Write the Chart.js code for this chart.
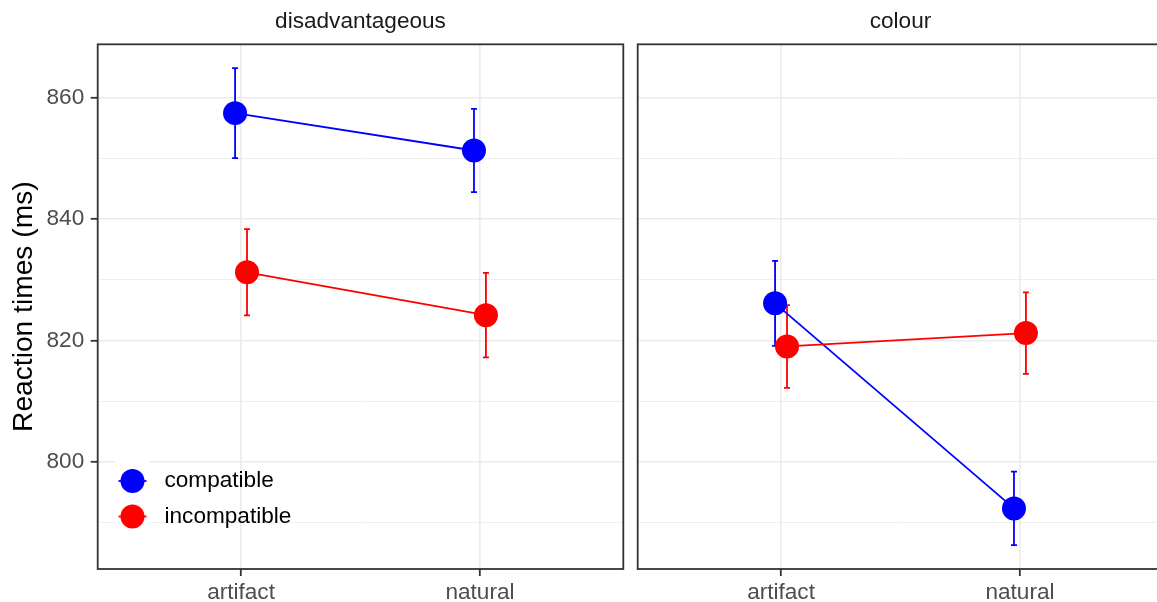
<!DOCTYPE html>
<html>
<head>
<meta charset="utf-8">
<script src="https://cdn.jsdelivr.net/npm/chart.js@4.4.1/dist/chart.umd.min.js"></script>
<style>
  html, body { margin: 0; padding: 0; background: #ffffff; width: 1157px; height: 602px; overflow: hidden; }
  canvas { position: absolute; top: 0; }
  #panelLeft { left: 0; }
  #panelRight { left: 630px; }
</style>
</head>
<body>
<canvas id="panelLeft" width="630" height="602"></canvas>
<canvas id="panelRight" width="540" height="602"></canvas>
<script>
// Facets, categories and groups
const panels = ['disadvantageous', 'colour'];
const categories = ['artifact', 'natural'];
const groups = ['compatible', 'incompatible'];
const groupColors = ['#0000FF', '#FF0000'];

// Mean reaction times (ms), one value per category
const disadvCompatible = [857.4, 851.25];
const disadvIncompatible = [831.2, 824.15];
const colourCompatible = [826.1, 792.35];
const colourIncompatible = [819.0, 821.2];

// Error bar half-widths (ms)
const disadvCompatibleErr = [7.4, 6.85];
const disadvIncompatibleErr = [7.1, 6.95];
const colourCompatibleErr = [7.0, 6.05];
const colourIncompatibleErr = [6.8, 6.7];

// Labelled y ticks
const yTicks = [800, 820, 840, 860];

const FONT = '"Liberation Sans", Arial, Helvetica, sans-serif';
const TEXT_SIZE = 22.6;
const TITLE_SIZE = 28.2;
const DODGE = 0.025;

// y limits: data range incl. error bars, expanded by 5% each side
const allMeans = [disadvCompatible, disadvIncompatible, colourCompatible, colourIncompatible];
const allErrs = [disadvCompatibleErr, disadvIncompatibleErr, colourCompatibleErr, colourIncompatibleErr];
let lo = Infinity, hi = -Infinity;
allMeans.forEach((arr, k) => arr.forEach((v, i) => {
  lo = Math.min(lo, v - allErrs[k][i]);
  hi = Math.max(hi, v + allErrs[k][i]);
}));
const span = hi - lo;
const yMin = lo - 0.05 * span;
const yMax = hi + 0.05 * span;

// major + minor grid positions
const yStep = yTicks[1] - yTicks[0];
const yGrid = [];
for (let v = yTicks[0] - yStep / 2; v <= yMax; v += yStep / 2) {
  if (v >= yMin) yGrid.push(v);
}
const isMajor = v => yTicks.includes(v);

function series(label, vals, errs, gi) {
  const off = gi === 0 ? -DODGE : DODGE;
  return {
    label: label,
    data: vals.map((v, i) => ({ x: i + 1 + off, y: v })),
    err: errs,
    borderColor: groupColors[gi],
    backgroundColor: groupColors[gi],
    pointBackgroundColor: groupColors[gi],
    pointBorderWidth: 0,
    pointRadius: 12,
    borderWidth: 1.8,
    tension: 0,
    order: gi === 0 ? 2 : 1
  };
}

// vertical error bars with small caps
const errorBars = {
  id: 'errorBars',
  beforeDatasetsDraw(chart) {
    const { ctx, scales: { x, y } } = chart;
    chart.data.datasets.forEach(ds => {
      ctx.save();
      ctx.strokeStyle = ds.borderColor;
      ctx.lineWidth = 1.8;
      ds.data.forEach((p, i) => {
        const px = x.getPixelForValue(p.x);
        const top = y.getPixelForValue(p.y + ds.err[i]);
        const bot = y.getPixelForValue(p.y - ds.err[i]);
        ctx.beginPath();
        ctx.moveTo(px, top); ctx.lineTo(px, bot);
        ctx.moveTo(px - 3, top); ctx.lineTo(px + 3, top);
        ctx.moveTo(px - 3, bot); ctx.lineTo(px + 3, bot);
        ctx.stroke();
      });
      ctx.restore();
    });
  }
};

// dark frame round each panel
const panelBorder = {
  id: 'panelBorder',
  afterDraw(chart) {
    const { ctx, chartArea: a } = chart;
    ctx.save();
    ctx.strokeStyle = '#333333';
    ctx.lineWidth = 1.8;
    ctx.strokeRect(a.left, a.top, a.right - a.left, a.bottom - a.top);
    ctx.restore();
  }
};

// group legend inside the first panel
const groupLegend = {
  id: 'groupLegend',
  afterDraw(chart) {
    const { ctx, chartArea: a } = chart;
    const keyLeft = a.left + 17.3, keyW = 35;
    ctx.save();
    ctx.fillStyle = '#ffffff';
    ctx.fillRect(keyLeft, a.bottom - 110, keyW, 78);
    chart.data.datasets.forEach((ds, i) => {
      const cy = a.bottom - 88 + i * 35.5;
      const cx = keyLeft + keyW / 2;
      ctx.strokeStyle = ds.borderColor;
      ctx.lineWidth = 1.8;
      ctx.beginPath();
      ctx.moveTo(keyLeft + keyW * 0.1, cy);
      ctx.lineTo(keyLeft + keyW * 0.9, cy);
      ctx.stroke();
      ctx.fillStyle = ds.borderColor;
      ctx.beginPath();
      ctx.arc(cx, cy, 12, 0, Math.PI * 2);
      ctx.fill();
      ctx.fillStyle = '#000000';
      ctx.font = TEXT_SIZE + 'px ' + FONT;
      ctx.textAlign = 'left';
      ctx.textBaseline = 'middle';
      ctx.fillText(ds.label, keyLeft + keyW + 14.5, cy);
    });
    ctx.restore();
  }
};

function makePanel(canvasId, title, compat, compatErr, incompat, incompatErr, isFirst) {
  const yScale = {
    type: 'linear',
    min: yMin,
    max: yMax,
    afterBuildTicks: s => { s.ticks = yGrid.map(v => ({ value: v })); },
    afterFit: s => { s.width = isFirst ? 97.7 : 0; },
    border: { display: false },
    grid: {
      color: '#EBEBEB',
      lineWidth: c => (c.tick && isMajor(c.tick.value)) ? 1.6 : 0.8,
      drawTicks: isFirst,
      tickLength: 7,
      tickWidth: 1.8,
      tickColor: c => (c.tick && isMajor(c.tick.value)) ? '#333333' : 'rgba(0,0,0,0)'
    },
    ticks: {
      display: isFirst,
      autoSkip: false,
      padding: 6.5,
      color: '#4D4D4D',
      font: { size: TEXT_SIZE, family: FONT },
      callback: v => isMajor(v) ? String(v) : ''
    },
    title: {
      display: isFirst,
      text: 'Reaction times (ms)',
      color: '#000000',
      font: { size: TITLE_SIZE, family: FONT },
      padding: { top: 7.5, bottom: 0 }
    }
  };
  const xScale = {
    type: 'linear',
    min: 0.4,
    max: 2.6,
    afterBuildTicks: s => { s.ticks = categories.map((c, i) => ({ value: i + 1 })); },
    afterFit: s => { s.height = 33; },
    border: { display: false },
    grid: { color: '#EBEBEB', lineWidth: 1.6, tickLength: 7, tickWidth: 1.8, tickColor: '#333333' },
    ticks: {
      autoSkip: false,
      maxRotation: 0,
      padding: 3.5,
      color: '#4D4D4D',
      font: { size: TEXT_SIZE, family: FONT },
      callback: v => categories[Math.round(v) - 1] || ''
    }
  };
  const plugins = [errorBars, panelBorder];
  if (isFirst) plugins.push(groupLegend);
  return new Chart(document.getElementById(canvasId), {
    type: 'line',
    data: {
      datasets: [
        series(groups[0], compat, compatErr, 0),
        series(groups[1], incompat, incompatErr, 1)
      ]
    },
    options: {
      responsive: false,
      animation: false,
      events: [],
      layout: {
        autoPadding: false,
        padding: { left: isFirst ? 0 : 7.7, right: 6.7, top: 0, bottom: 0 }
      },
      scales: { x: xScale, y: yScale },
      plugins: {
        legend: { display: false },
        tooltip: { enabled: false },
        title: {
          display: true,
          text: title,
          fullSize: false,
          color: '#1A1A1A',
          font: { size: TEXT_SIZE, family: FONT, weight: 'normal' },
          lineHeight: 1.2,
          padding: { top: 8.6, bottom: 8.6 }
        }
      }
    },
    plugins: plugins
  });
}

makePanel('panelLeft', panels[0], disadvCompatible, disadvCompatibleErr, disadvIncompatible, disadvIncompatibleErr, true);
makePanel('panelRight', panels[1], colourCompatible, colourCompatibleErr, colourIncompatible, colourIncompatibleErr, false);
</script>
</body>
</html>
